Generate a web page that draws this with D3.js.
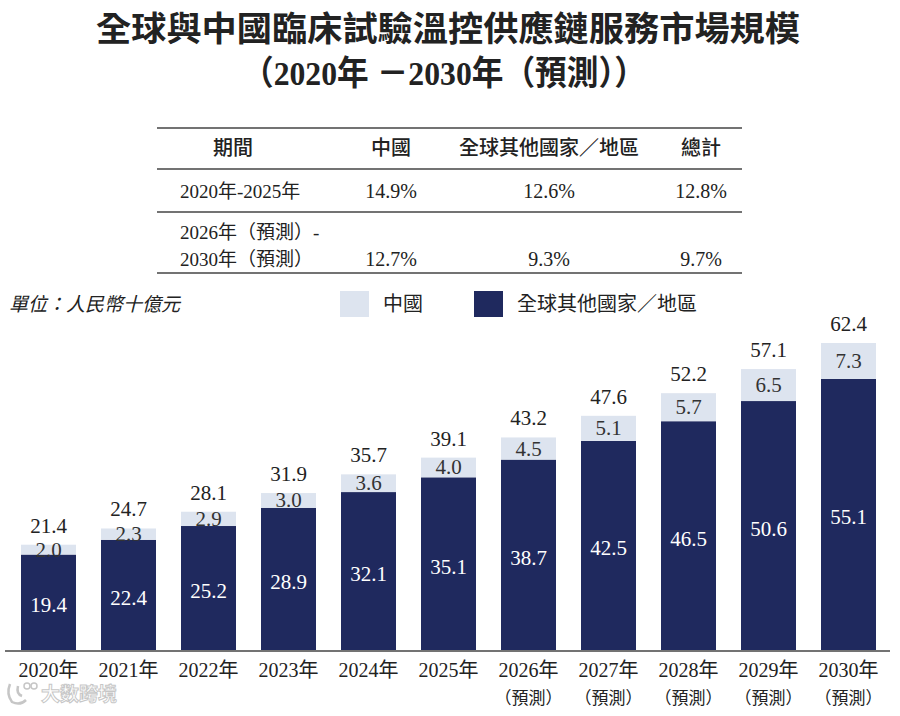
<!DOCTYPE html>
<html lang="zh-Hant">
<head>
    <meta charset="UTF-8">
    <title>全球與中國臨床試驗溫控供應鏈服務市場規模</title>
    <script src="https://d3js.org/d3.v7.min.js"></script>
    <style>
        html, body {
            margin: 0;
            padding: 0;
            background: #fff;
            overflow: hidden;
        }
        svg { display: block; }
        .serif { font-family: "Liberation Serif", "Noto Sans CJK TC", serif; }
        .cjk { font-family: "Noto Sans CJK TC", "Noto Sans", sans-serif; }
    </style>
</head>
<body>
    <script>
        // chart data
        const years = ["2020", "2021", "2022", "2023", "2024", "2025", "2026", "2027", "2028", "2029", "2030"];
        const forecast = [false, false, false, false, false, false, true, true, true, true, true];
        const chinaValues = [2.0, 2.3, 2.9, 3.0, 3.6, 4.0, 4.5, 5.1, 5.7, 6.5, 7.3];
        const otherValues = [19.4, 22.4, 25.2, 28.9, 32.1, 35.1, 38.7, 42.5, 46.5, 50.6, 55.1];
        const totalValues = [21.4, 24.7, 28.1, 31.9, 35.7, 39.1, 43.2, 47.6, 52.2, 57.1, 62.4];

        // CAGR table
        const periods = [["2020年-2025年"], ["2026年（預測）-", "2030年（預測）"]];
        const cagrChina = ["14.9%", "12.7%"];
        const cagrOther = ["12.6%", "9.3%"];
        const cagrTotal = ["12.8%", "9.7%"];
        const tableHeaders = ["期間", "中國", "全球其他國家／地區", "總計"];

        const seriesNames = ["中國", "全球其他國家／地區"];
        const colors = { china: "#dde4ef", other: "#1f295e" };

        const width = 900, height = 716;
        const svg = d3.select("body").append("svg")
            .attr("width", width)
            .attr("height", height);

        // title
        svg.append("text")
            .attr("class", "cjk")
            .attr("x", 448).attr("y", 41)
            .attr("text-anchor", "middle")
            .attr("font-size", 34).attr("font-weight", 700)
            .attr("fill", "#222")
            .attr("textLength", 704).attr("lengthAdjust", "spacingAndGlyphs")
            .text("全球與中國臨床試驗溫控供應鏈服務市場規模");
        svg.append("text")
            .attr("class", "serif")
            .attr("x", 444).attr("y", 85)
            .attr("text-anchor", "middle")
            .attr("font-size", 34).attr("font-weight", 700)
            .attr("fill", "#222")
            .attr("textLength", 404).attr("lengthAdjust", "spacingAndGlyphs")
            .text("（2020年 －2030年（預測））");

        // table
        const table = svg.append("g");
        const tLeft = 157, tRight = 742;
        const colX = [233, 391, 549, 701];
        [128, 169, 212, 273].forEach(y => {
            table.append("line")
                .attr("x1", tLeft).attr("x2", tRight)
                .attr("y1", y).attr("y2", y)
                .attr("stroke", "#444").attr("stroke-width", 1.6);
        });
        table.selectAll("text.hdr")
            .data(tableHeaders)
            .join("text")
            .attr("class", "hdr cjk")
            .attr("x", (d, i) => colX[i])
            .attr("y", 155)
            .attr("text-anchor", "middle")
            .attr("font-size", 20).attr("font-weight", 500)
            .attr("fill", "#222")
            .text(d => d);

        const rowBase = [198, 266];
        periods.forEach((lines, r) => {
            lines.forEach((s, k) => {
                table.append("text")
                    .attr("class", "serif")
                    .attr("x", 180)
                    .attr("y", rowBase[r] - (lines.length - 1 - k) * 27)
                    .attr("font-size", 19)
                    .attr("fill", "#222")
                    .text(s);
            });
            [cagrChina, cagrOther, cagrTotal].forEach((arr, c) => {
                table.append("text")
                    .attr("class", "serif")
                    .attr("x", colX[c + 1])
                    .attr("y", rowBase[r])
                    .attr("text-anchor", "middle")
                    .attr("font-size", 20)
                    .attr("fill", "#222")
                    .text(arr[r]);
            });
        });

        // unit + legend
        svg.append("text")
            .attr("class", "cjk")
            .attr("x", 9).attr("y", 311)
            .attr("font-size", 19).attr("font-style", "italic")
            .attr("fill", "#222")
            .text("單位：人民幣十億元");
        const legend = svg.append("g");
        const legendX = [340, 474];
        const legendColors = [colors.china, colors.other];
        seriesNames.forEach((name, i) => {
            legend.append("rect")
                .attr("x", legendX[i]).attr("y", 291)
                .attr("width", 29).attr("height", 26)
                .attr("fill", legendColors[i]);
            legend.append("text")
                .attr("class", "cjk")
                .attr("x", legendX[i] + 43).attr("y", 311)
                .attr("font-size", 20)
                .attr("fill", "#222")
                .text(name);
        });

        // scales
        const baseY = 650;
        const x = d3.scaleBand()
            .domain(years)
            .range([8.5, 888.5])
            .paddingInner(0.3125)
            .paddingOuter(0.15625);
        const y = d3.scaleLinear()
            .domain([0, 65])
            .range([baseY, baseY - 65 * 4.92]);

        const rows = years.map((yr, i) => ({
            year: yr,
            china: chinaValues[i],
            other: otherValues[i],
            total: totalValues[i],
            forecast: forecast[i]
        }));

        const bars = svg.append("g");
        // rest of world (bottom)
        bars.selectAll("rect.other")
            .data(rows)
            .join("rect")
            .attr("class", "other")
            .attr("x", d => x(d.year))
            .attr("width", x.bandwidth())
            .attr("y", d => y(d.other))
            .attr("height", d => y(0) - y(d.other))
            .attr("fill", colors.other);
        // China (top)
        bars.selectAll("rect.china")
            .data(rows)
            .join("rect")
            .attr("class", "china")
            .attr("x", d => x(d.year))
            .attr("width", x.bandwidth())
            .attr("y", d => y(d.other + d.china))
            .attr("height", d => y(d.other) - y(d.other + d.china))
            .attr("fill", colors.china);

        const labels = svg.append("g")
            .attr("class", "serif")
            .attr("font-size", 21)
            .attr("text-anchor", "middle");
        labels.selectAll("text.lo")
            .data(rows)
            .join("text")
            .attr("class", "lo")
            .attr("x", d => x(d.year) + x.bandwidth() / 2)
            .attr("y", d => (y(0) + y(d.other)) / 2 + 10)
            .attr("fill", "#fff")
            .text(d => d.other.toFixed(1));
        labels.selectAll("text.cn")
            .data(rows)
            .join("text")
            .attr("class", "cn")
            .attr("x", d => x(d.year) + x.bandwidth() / 2)
            .attr("y", d => (y(d.other) + y(d.other + d.china)) / 2 + 7)
            .attr("fill", "#333")
            .text(d => d.china.toFixed(1));
        labels.selectAll("text.tot")
            .data(rows)
            .join("text")
            .attr("class", "tot")
            .attr("x", d => x(d.year) + x.bandwidth() / 2)
            .attr("y", d => y(d.total) - 12)
            .attr("fill", "#222")
            .text(d => d.total.toFixed(1));

        // x axis
        const axis = svg.append("g")
            .attr("transform", `translate(0,${baseY + 1})`)
            .call(d3.axisBottom(x).tickSize(0).tickPadding(0));
        axis.select(".domain")
            .attr("d", "M5,0H890")
            .attr("stroke", "#444").attr("stroke-width", 1.6);
        axis.selectAll(".tick text").remove();
        axis.selectAll(".tick").each(function (d, i) {
            const g = d3.select(this);
            g.append("text")
                .attr("class", "serif")
                .attr("y", 26)
                .attr("text-anchor", "middle")
                .attr("font-size", 20)
                .attr("fill", "#222")
                .text(d + "年");
            if (forecast[i]) {
                g.append("text")
                    .attr("class", "cjk")
                    .attr("y", 53)
                    .attr("text-anchor", "middle")
                    .attr("font-size", 17)
                    .attr("fill", "#222")
                    .text("（預測）");
            }
        });

        // watermark
        const wm = svg.append("g").attr("opacity", 0.55);
        wm.append("path")
            .attr("d", "M10,684 Q6,694 12,702 Q20,706 26,700 M18,686 Q16,694 22,696")
            .attr("fill", "none").attr("stroke", "#999").attr("stroke-width", 2.5);
        wm.append("circle").attr("cx", 27).attr("cy", 686).attr("r", 3)
            .attr("fill", "none").attr("stroke", "#999").attr("stroke-width", 1.5);
        wm.append("circle").attr("cx", 34).attr("cy", 686).attr("r", 3)
            .attr("fill", "none").attr("stroke", "#999").attr("stroke-width", 1.5);
        wm.append("text")
            .attr("class", "cjk")
            .attr("x", 41).attr("y", 701)
            .attr("font-size", 19).attr("font-weight", 700)
            .attr("fill", "#fff").attr("stroke", "#999").attr("stroke-width", 1)
            .text("大数跨境");
    </script>
</body>
</html>
